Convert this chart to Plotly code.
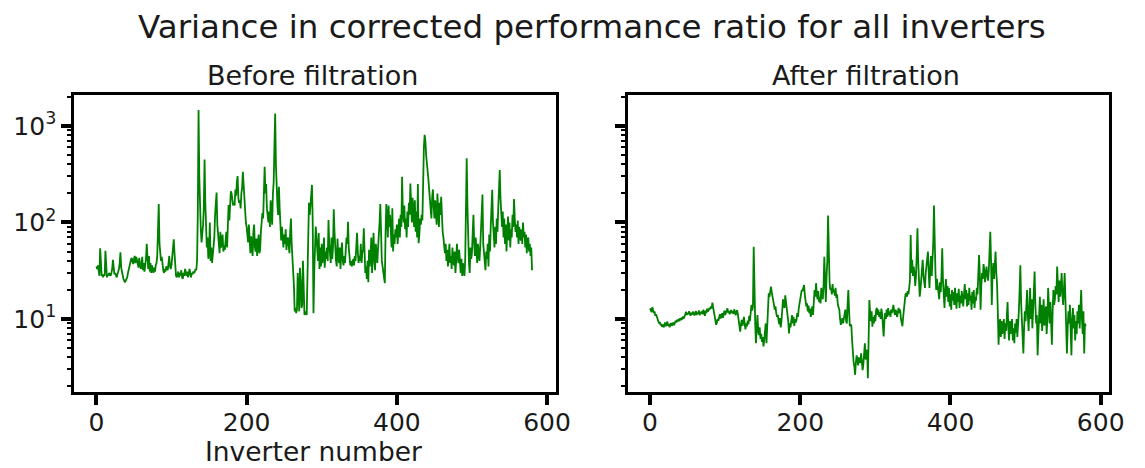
import plotly.graph_objects as go

# Variance of corrected performance ratio, per inverter (0..580)
before_filtration = [
    35,33,36,30,28,54,30,28,29,27,
    29,28,51,30,27,29,28,30,29,28,
    30,33,41,35,29,30,28,27,29,31,
    33,38,49,34,30,28,26,25,24,25,
    26,27,30,33,36,38,41,43,40,37,
    42,45,38,44,41,36,34,43,39,33,
    35,44,32,38,31,36,42,60,40,33,
    45,31,38,30,36,33,30,34,31,36,
    38,45,70,155,60,45,40,44,36,32,
    30,33,31,35,34,32,38,45,35,33,
    36,45,62,67,48,34,28,27,29,31,
    27,30,28,32,27,26,30,28,33,29,
    28,31,27,29,33,30,27,30,29,31,
    30,31,33,32,40,120,1460,300,110,85,
    62,75,95,140,450,160,80,55,70,42,
    48,100,40,55,38,45,62,70,120,204,
    204,95,70,60,48,80,55,65,75,50,
    58,52,62,80,55,110,152,105,170,210,
    200,180,150,160,150,220,190,260,303,180,
    160,170,140,200,230,336,250,150,115,100,
    90,70,62,95,55,48,72,60,45,80,
    95,55,50,68,45,60,75,48,52,80,
    105,125,110,180,378,200,250,140,110,100,
    130,90,170,110,95,200,260,600,1350,400,
    200,150,120,235,140,80,65,90,70,55,
    75,60,85,52,65,70,58,48,80,110,
    60,45,34,22,12,13,11.5,12.5,30,13,
    12,34,25,13,14,40,12,11,11.5,12,
    11,40,90,160,120,150,200,245,100,11.5,
    30,60,91,70,45,40,78,33,55,35,
    60,38,45,70,34,50,42,55,40,106,
    60,45,38,70,42,55,137,80,50,40,
    35,68,45,38,55,33,48,62,40,36,
    45,38,52,70,60,102,55,42,36,40,
    35,38,42,36,45,40,55,78,50,38,
    45,40,60,38,48,52,87,45,30,35,
    26,40,24,52,35,45,70,30,58,78,
    40,32,60,45,38,55,70,100,155,60,
    40,35,30,28,23.5,80,155,110,70,150,
    90,120,60,55,140,50,75,60,85,70,
    95,60,80,110,70,120,90,298,130,100,
    150,85,110,70,130,90,160,120,254,140,
    100,180,120,90,170,80,130,70,250,61,
    75,110,95,120,105,300,600,808,700,500,
    420,378,280,220,158,130,110,180,220,150,
    110,170,130,95,200,140,90,160,120,185,
    100,80,70,55,48,60,40,52,35,45,
    60,38,45,33,55,42,36,50,30,40,
    60,45,38,52,35,30,42,28,38,32,
    28,40,120,462,150,45,38,30,55,42,
    48,80,120,60,45,70,55,38,60,45,
    40,55,80,120,195,60,45,38,32,50,
    42,60,35,75,50,90,130,218,100,70,
    55,90,60,110,80,140,200,350,180,120,
    90,130,70,110,60,95,50,80,115,65,
    100,55,85,70,120,90,175,110,80,95,
    70,105,60,90,75,65,85,60,100,70,
    80,55,75,48,65,70,50,60,45,55,
    32,
]

after_filtration = [
    12.9,12.5,11.8,13.3,12.2,11.5,12.0,10.8,11.2,10.5,
    10.0,9.5,9.0,9.3,8.6,8.9,8.3,8.8,8.2,8.6,
    9.2,8.4,8.8,9.4,8.5,8.9,8.2,8.7,9.1,8.5,
    8.8,9.2,8.6,9.0,9.6,9.2,9.8,9.4,10.0,9.5,
    10.2,9.7,10.4,9.9,10.6,10.1,10.8,11.2,11.9,11.0,
    11.5,11.2,12.0,11.4,10.8,11.6,11.1,11.9,11.3,10.9,
    11.5,12.1,11.0,11.7,11.3,12.3,10.9,11.8,11.4,12.0,
    11.2,12.5,11.6,10.8,12.2,11.5,12.8,11.9,12.4,13.0,
    12.6,13.5,12.9,14.8,13.2,11.5,10.2,9.5,8.7,9.2,
    10.0,9.6,10.5,11.2,10.1,10.8,11.5,10.3,11.8,12.2,
    11.0,11.8,12.5,12.9,11.6,12.1,11.2,11.9,12.4,11.5,
    12.0,11.3,12.6,11.8,10.9,12.0,12.3,11.1,9.5,8.6,
    7.4,8.8,9.8,8.5,9.2,10.5,8.9,7.8,9.0,8.4,
    9.6,8.8,10.8,9.5,11.6,14.0,12.2,13.5,56.0,14.0,
    9.0,5.6,8.5,11.0,7.5,6.8,8.2,6.2,7.0,5.8,
    6.5,5.2,6.0,7.5,9.0,5.6,8.0,12.5,18.5,17.0,
    19.5,21.6,19.0,16.5,15.0,14.0,12.5,13.5,11.5,10.5,
    11.0,9.5,8.8,10.2,8.2,9.6,12.5,16.0,14.5,13.0,
    17.6,15.0,13.5,12.5,9.5,7.1,9.0,8.2,10.0,11.0,
    9.0,10.5,8.5,10.0,9.2,9.8,11.5,10.5,13.0,15.0,
    16.5,18.0,20.0,19.5,21.0,22.5,18.0,15.5,13.5,14.5,
    12.0,13.8,11.5,12.8,10.5,12.0,13.5,11.0,15.0,20.0,
    17.0,23.5,18.0,16.0,19.5,15.0,17.0,14.5,21.0,18.0,
    16.0,22.0,44.0,25.0,15.0,28.0,40.0,118.0,35.0,24.0,
    20.0,21.0,18.0,23.0,19.0,20.0,17.5,21.0,16.5,18.0,
    14.0,13.0,12.5,10.0,8.7,9.5,10.2,9.0,9.8,11.0,
    12.5,9.5,9.0,14.0,20.0,12.0,8.4,8.8,8.5,6.0,
    4.1,3.6,3.2,2.64,3.5,4.2,3.8,3.3,4.0,3.7,
    3.5,4.4,3.2,2.95,3.4,4.5,5.6,3.8,4.2,4.8,
    2.43,6.0,15.7,11.5,9.5,12.0,8.3,10.5,9.0,11.0,
    9.5,12.5,13.0,11.0,12.5,10.5,11.8,10.0,12.8,11.2,
    9.0,6.6,9.5,11.5,10.0,12.5,10.5,13.0,11.0,12.0,
    10.5,12.5,11.5,13.0,14.0,12.0,11.0,12.5,11.5,10.5,
    12.0,13.0,11.5,12.5,10.0,9.0,8.4,10.5,13.0,15.5,
    17.7,18.5,17.0,19.5,18.0,21.0,25.0,74.0,30.0,41.0,
    28.0,35.0,30.0,22.0,27.0,45.0,87.0,40.0,24.0,17.0,
    20.0,26.0,32.0,41.0,28.0,24.0,21.0,30.0,36.0,40.0,
    50.0,30.0,21.0,33.0,45.0,28.0,38.0,60.0,150.0,45.0,
    30.0,20.0,26.0,22.0,18.0,16.0,24.0,19.0,28.0,54.0,
    25.0,18.0,13.0,20.0,26.0,17.0,22.0,15.0,21.0,13.5,
    18.0,12.5,20.0,15.5,19.0,14.0,21.0,16.0,12.8,18.5,
    15.0,20.5,13.0,17.5,14.5,19.5,16.5,13.5,18.0,23.0,
    16.0,20.0,13.5,18.5,14.0,21.0,15.5,17.5,12.5,19.0,
    14.5,20.0,13.0,17.0,15.5,21.0,18.0,25.0,46.0,30.0,
    12.5,22.0,30.0,26.0,37.0,32.0,24.0,30.0,35.0,28.0,
    25.0,32.0,45.0,80.0,40.0,14.0,30.0,38.0,26.0,35.0,
    50.0,30.0,23.0,12.0,5.4,8.5,10.0,6.5,9.5,7.0,
    8.0,10.0,6.2,9.0,7.5,11.0,15.0,8.0,6.0,9.5,
    7.0,8.5,10.0,6.0,8.0,5.6,9.0,7.2,10.0,6.5,
    8.5,12.0,20.0,36.0,15.0,9.0,6.0,4.4,8.0,12.0,
    9.5,14.0,20.0,11.0,7.5,13.0,21.0,10.0,16.0,8.0,
    12.0,18.0,31.0,14.0,9.0,11.0,4.2,7.0,10.0,17.0,
    9.0,14.0,7.5,12.0,16.0,8.5,11.0,13.5,7.0,10.0,
    21.0,12.0,9.0,15.0,10.0,5.4,12.0,20.0,14.0,16.0,
    22.0,18.0,35.0,20.0,15.0,25.0,17.0,22.0,30.0,18.0,
    14.0,20.0,30.0,16.0,9.0,4.4,8.0,12.0,9.0,14.0,
    7.5,4.2,10.0,13.0,8.0,11.0,6.0,9.5,7.0,12.0,
    9.0,14.0,8.0,11.0,20.0,10.0,7.0,12.0,4.4,9.0,
    8.4,
]

inverters_before = list(range(len(before_filtration)))
inverters_after = list(range(len(after_filtration)))

x_tickvals = [0, 200, 400, 600]
y_tickvals = [10, 100, 1000]
y_ticktext = ["10<sup>1</sup>", "10<sup>2</sup>", "10<sup>3</sup>"]
y_minor = [m * 10 ** e for e in range(0, 4) for m in range(2, 10)]

W, H = 1145, 468
LINE_GREEN = "#008000"
FONT = "DejaVu Sans"
TXT = "#1a1a1a"

fig = go.Figure()
fig.add_trace(go.Scatter(x=inverters_before, y=before_filtration, mode="lines",
                         line=dict(color=LINE_GREEN, width=1.8),
                         xaxis="x", yaxis="y", showlegend=False))
fig.add_trace(go.Scatter(x=inverters_after, y=after_filtration, mode="lines",
                         line=dict(color=LINE_GREEN, width=1.8),
                         xaxis="x2", yaxis="y2", showlegend=False))

def px_x(p):
    return p / W

def px_y(p):
    return 1 - p / H

xdom1 = [px_x(75), px_x(563)]
xdom2 = [px_x(636), px_x(1124)]
ydom = [px_y(392), px_y(95)]

common_x = dict(range=[-29.8, 611.4], tickvals=x_tickvals, ticks="outside",
                ticklen=10, tickwidth=3.5, tickcolor="black", showline=True,
                linecolor="black", linewidth=2.5, mirror=True, showgrid=False,
                zeroline=False, ticklabelstandoff=-4,
                tickfont=dict(family=FONT, size=25, color=TXT))
common_y = dict(type="log", range=[0.2435, 3.321], tickvals=y_tickvals,
                ticks="outside", ticklen=10, tickwidth=3.5, tickcolor="black",
                showline=True, linecolor="black", linewidth=2.5, mirror=True,
                showgrid=False, zeroline=False,
                minor=dict(tickvals=y_minor, ticks="outside", ticklen=4,
                           tickwidth=1.5, tickcolor="black", showgrid=False),
                tickfont=dict(family=FONT, size=25, color=TXT))

fig.update_layout(
    width=W, height=H,
    margin=dict(l=0, r=0, t=0, b=0),
    paper_bgcolor="white", plot_bgcolor="white",
    font=dict(family=FONT, color=TXT),
    xaxis=dict(domain=xdom1, anchor="y", **common_x),
    yaxis=dict(domain=ydom, anchor="x", ticktext=y_ticktext, **common_y),
    xaxis2=dict(domain=xdom2, anchor="y2", **common_x),
    yaxis2=dict(domain=ydom, anchor="x2", showticklabels=False, **common_y),
    annotations=[
        dict(text="Variance in corrected performance ratio for all inverters",
             x=px_x(600), y=px_y(27), xref="paper", yref="paper",
             showarrow=False, font=dict(family=FONT, size=32.5, color=TXT),
             xanchor="center", yanchor="middle"),
        dict(text="Before filtration", x=px_x(317), y=px_y(76), xref="paper",
             yref="paper", showarrow=False,
             font=dict(family=FONT, size=27, color=TXT),
             xanchor="center", yanchor="middle"),
        dict(text="After filtration", x=px_x(878), y=px_y(76), xref="paper",
             yref="paper", showarrow=False,
             font=dict(family=FONT, size=27, color=TXT),
             xanchor="center", yanchor="middle"),
        dict(text="Inverter number", x=px_x(318), y=px_y(451), xref="paper",
             yref="paper", showarrow=False,
             font=dict(family=FONT, size=26.5, color=TXT),
             xanchor="center", yanchor="middle"),
    ],
)

fig.write_html("out.html")
